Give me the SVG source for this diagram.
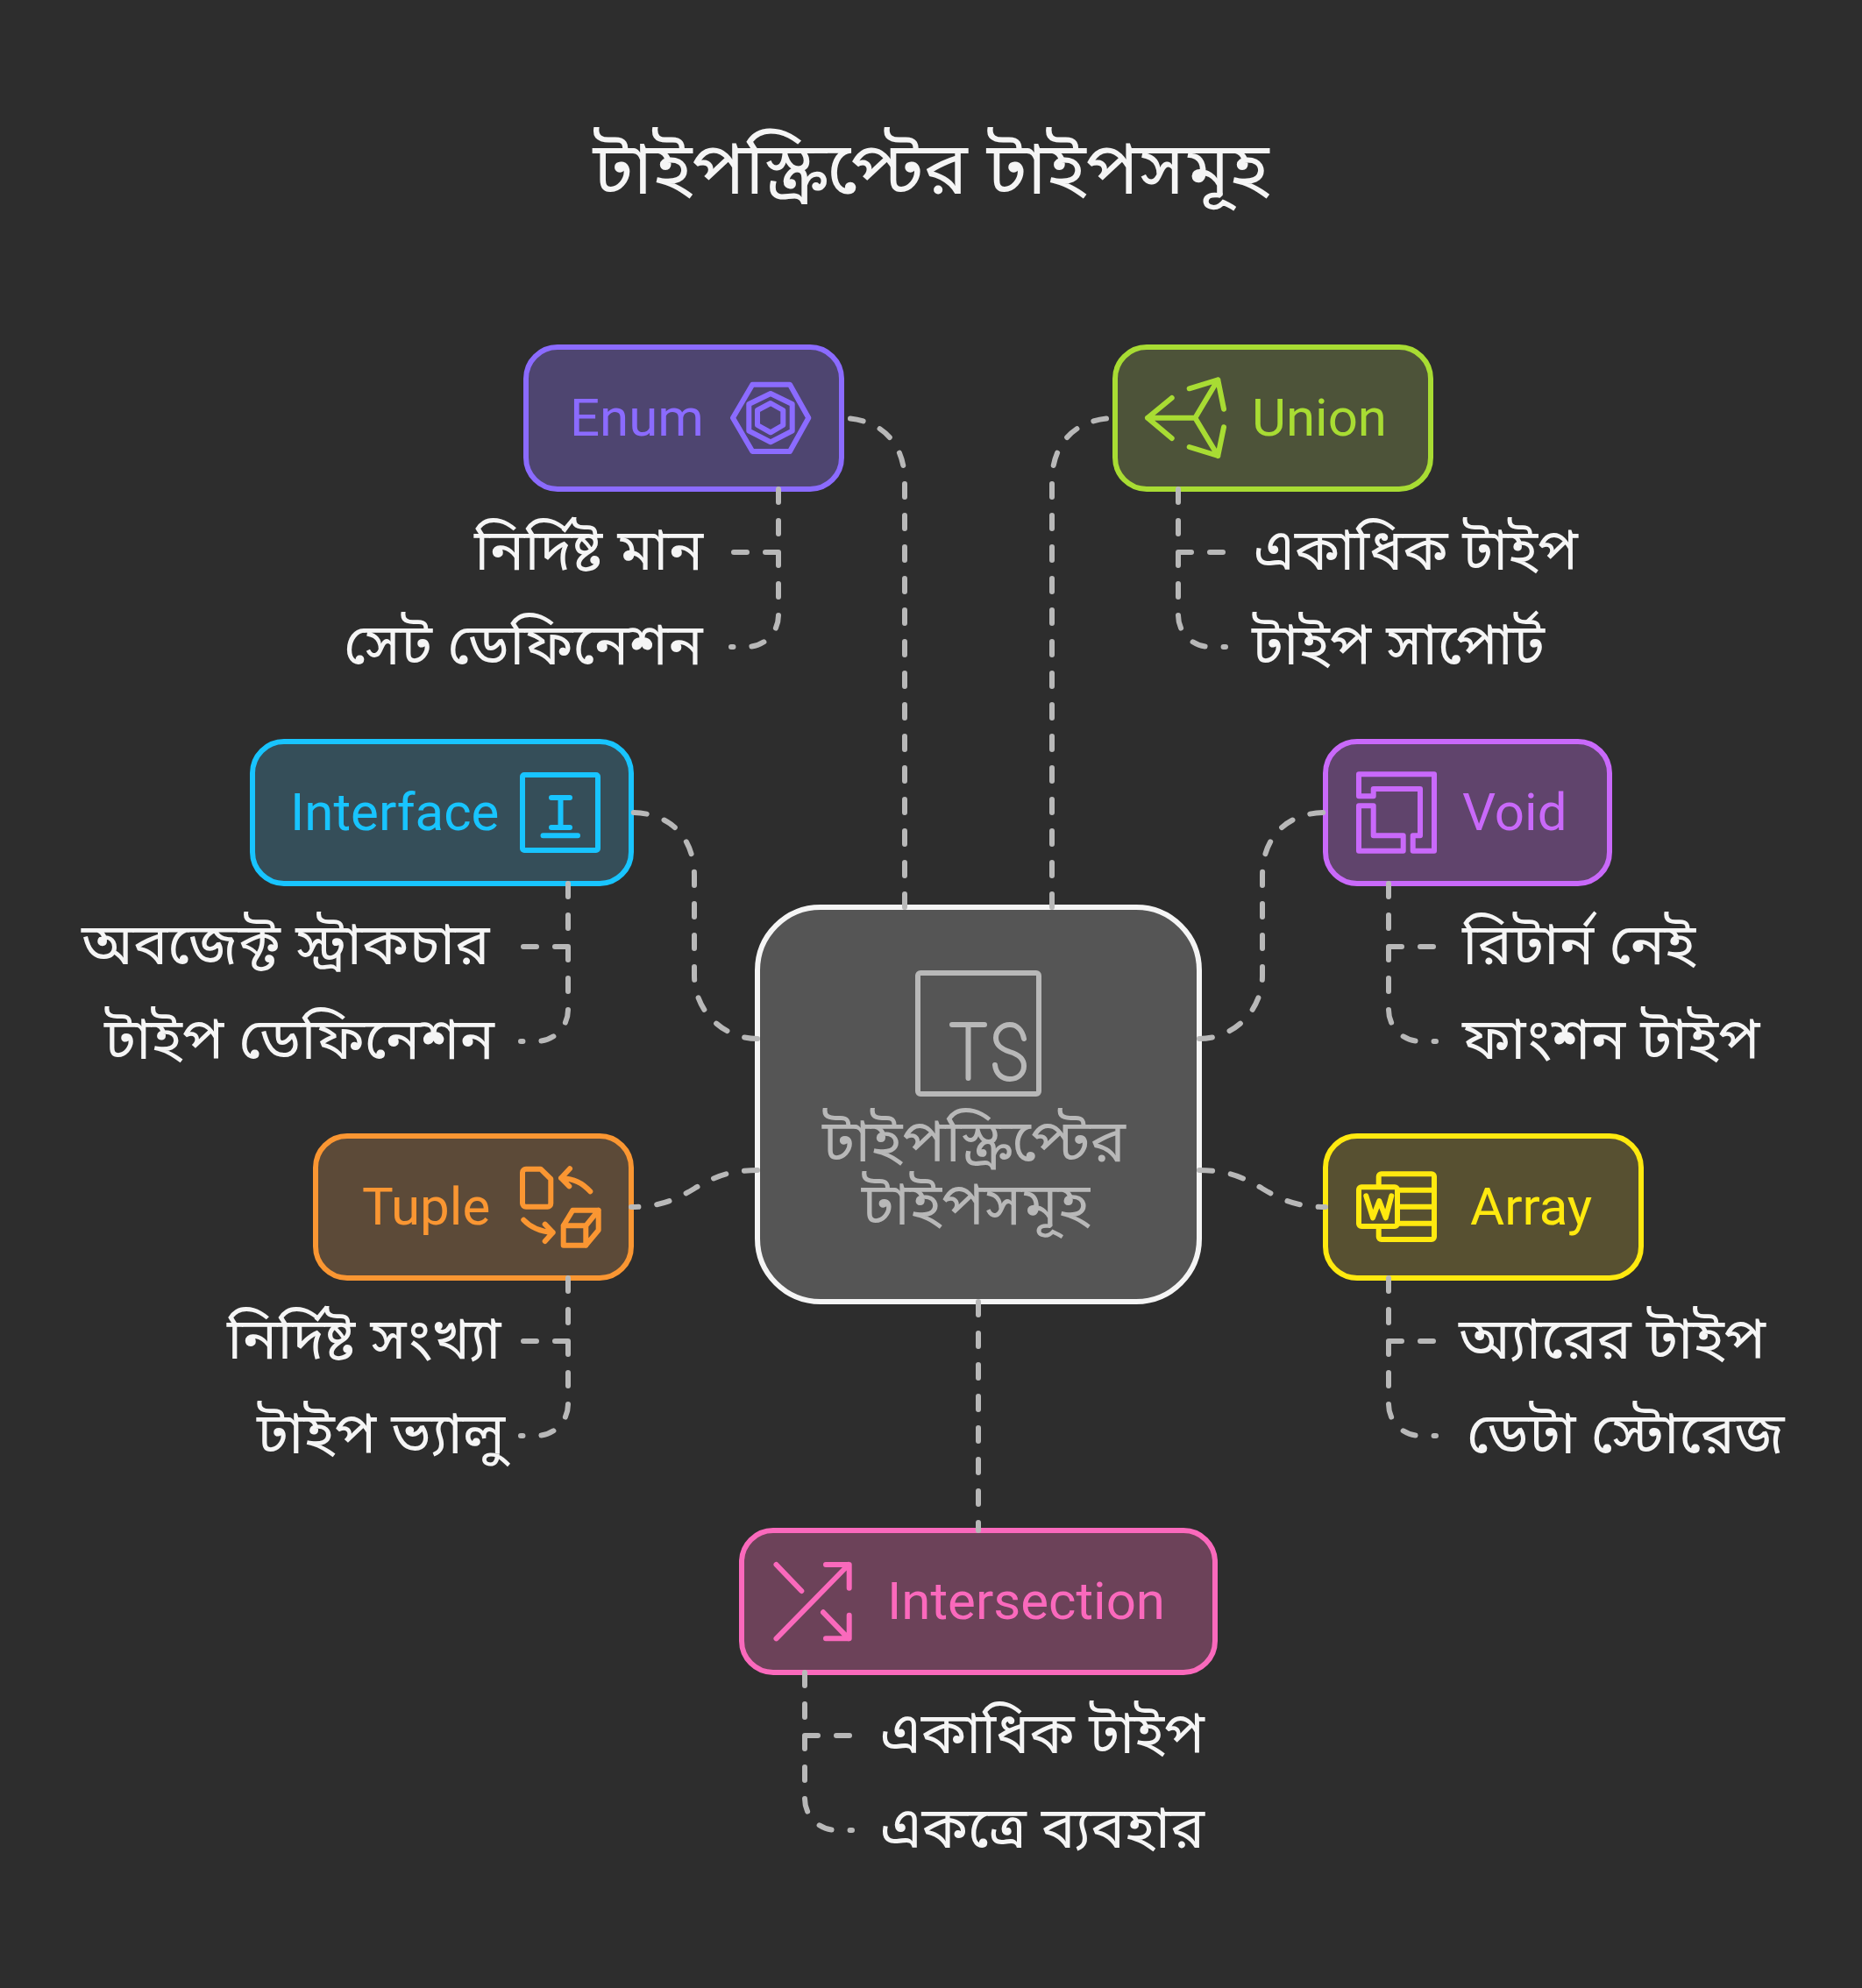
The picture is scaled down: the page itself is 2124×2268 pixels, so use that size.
<svg xmlns="http://www.w3.org/2000/svg" width="2124" height="2268" viewBox="0 0 2124 2268">
<style>
.bg{fill:#2d2d2d}
text{font-family:Roboto,"Noto Sans",sans-serif;font-size:60px}
.bn,.l text{font-family:"Noto Sans Bengali",Roboto,sans-serif}
.l text{font-size:66px}
.l{fill:#f5f5f5}
.c{fill:none;stroke:#b8b8b8;stroke-width:6;stroke-linecap:round;stroke-linejoin:miter;stroke-dasharray:15 21}
.i{fill:none;stroke-width:6;stroke-linecap:round;stroke-linejoin:round}
.b{stroke-width:6}
</style>
<rect class="bg" width="2124" height="2268"/>
<text class="l bn" x="1062" y="221" text-anchor="middle" style="font-size:84px">টাইপস্ক্রিপ্টের টাইপসমূহ</text>
<g id="center"><rect x="864" y="1035" width="504" height="450" rx="72" fill="#555" stroke="#f5f5f5" class="b"/>
<g class="i" stroke="#b8b8b8"><rect x="1047" y="1110" width="138" height="138" rx="3"/><path d="M1086 1169H1123M1104.500 1169V1230M1168 1185C1166 1175 1160 1169 1152 1169C1143 1169 1136 1176 1136 1184C1136 1193 1143 1197 1152 1200C1162 1203 1168 1208 1168 1216C1168 1225 1161 1231 1152 1231C1143 1231 1136 1225 1135 1215"/></g>
<text class="bn" x="1111" y="1325" text-anchor="middle" fill="#b8b8b8" style="font-size:68px">টাইপস্ক্রিপ্টের</text>
<text class="bn" x="1113" y="1397" text-anchor="middle" fill="#b8b8b8" style="font-size:68px">টাইপসমূহ</text></g>
<g id="enum"><rect x="600" y="396" width="360" height="162" rx="36" fill="#4e4570" stroke="#8b6bff" class="b"/><text x="650" y="497" fill="#8b6bff">Enum</text>
<g class="i" stroke="#8b6bff"><path d="M858.300 438.700H901L922.300 476.700L901 515H858.300L836 476.700Z"/><path d="M879 449L903.700 461V491.700L879 504.300L854.300 491.700V461Z"/><path d="M879 460L893.300 468V485L879 493.300L864 485V468Z"/></g></g>
<g id="union"><rect x="1272" y="396" width="360" height="162" rx="36" fill="#4d5339" stroke="#a8dc33" class="b"/><text x="1428" y="497" fill="#a8dc33">Union</text>
<g class="i" stroke="#a8dc33"><path d="M1309 476.700H1363.300L1389.300 433.300M1363.300 476.700L1389.300 520M1336.700 454L1309 476.700L1336.700 500M1356.700 443.300L1389.300 433.300L1396 466.700M1356.700 510L1389.300 520L1396 487.300"/></g></g>
<g id="interface"><rect x="288" y="846" width="432" height="162" rx="36" fill="#354e59" stroke="#18c4ff" class="b"/><text x="331" y="947" fill="#18c4ff">Interface</text>
<g class="i" stroke="#18c4ff"><rect x="596" y="884" width="86" height="86" rx="2"/><path d="M629 910H650M639.500 910V944M629 944H650M619.500 953.300H659"/></g></g>
<g id="void"><rect x="1512" y="846" width="324" height="162" rx="36" fill="#60446c" stroke="#c969fa" class="b"/><text x="1668" y="947" fill="#c969fa">Void</text>
<g class="i" stroke="#c969fa"><path d="M1550 883.300H1636V970.700H1611.700V953.300H1620V900H1566.700V908.300H1550Z"/><path d="M1550 919.300H1566.700V953.300H1600.700V970.700H1550Z"/></g></g>
<g id="tuple"><rect x="360" y="1296" width="360" height="162" rx="36" fill="#5c4a38" stroke="#fa9632" class="b"/><text x="413" y="1397" fill="#fa9632">Tuple</text>
<g class="i" stroke="#fa9632"><path d="M600 1333.700H616.700L628.300 1345V1373A3.700 3.700 0 0 1 624.600 1376.700H600A4 4 0 0 1 596 1372.700V1337.700A4 4 0 0 1 600 1333.700Z"/><path d="M673.300 1359.300C664 1349 655 1345 640 1344M650 1333.300L640 1344L649.300 1353.300M597.300 1391.700C606 1401 616 1405 630.700 1406M621.700 1396.700L630.700 1406L621.700 1416M642.700 1398.300H668.300V1420.700H642.700ZM642.700 1398.300L653.300 1380.700H682.700V1403.300L668.300 1420.700M668.300 1398.300L682.700 1380.700"/></g></g>
<g id="array"><rect x="1512" y="1296" width="360" height="162" rx="36" fill="#575031" stroke="#ffe90f" class="b"/><text x="1677" y="1397" fill="#ffe90f">Array</text>
<g class="i" stroke="#ffe90f"><rect x="1550" y="1354.300" width="44" height="44.700" rx="3"/><path d="M1572.700 1354V1342.300A3 3 0 0 1 1575.700 1339.300H1633A3 3 0 0 1 1636 1342.300V1411A3 3 0 0 1 1633 1414H1575.700A3 3 0 0 1 1572.700 1411V1399M1594 1357.700H1636M1594 1376.700H1636M1594 1395.700H1636M1558.300 1364.300L1566 1389.300L1573.300 1370L1580.700 1389.300L1587.300 1364.300"/></g></g>
<g id="intersection"><rect x="846" y="1746" width="540" height="162" rx="36" fill="#6c4259" stroke="#fa69bc" class="b"/><text x="1012" y="1847" fill="#fa69bc">Intersection</text>
<g class="i" stroke="#fa69bc"><path d="M885.500 1869.300L968 1785M942 1785H968.700V1811.700M885.500 1785L914.300 1815M939 1839.300L968 1869.300M942 1869.300H968.700V1842.700"/></g></g>
<g id="connectors">
<path class="c" d="M1032 1035V549C1032 505 1004 477 960 477"/>
<path class="c" d="M1200 1035V549C1200 505 1228 477 1272 477"/>
<path class="c" d="M864 1185A72 72 0 0 1 792 1113V999C792 955 764 927 720 927"/>
<path class="c" d="M1368 1185A72 72 0 0 0 1440 1113V999C1440 955 1468 927 1512 927"/>
<path class="c" d="M864 1335C792 1335 792 1377 720 1377"/>
<path class="c" d="M1368 1335C1440 1335 1440 1377 1512 1377"/>
<path class="c" d="M1116 1485V1746"/>
<path class="c" d="M888 558V630H834M888 630V702A36 36 0 0 1 852 738H834"/>
<path class="c" d="M1344 558V630H1398M1344 630V702A36 36 0 0 0 1380 738H1398"/>
<path class="c" d="M648 1008V1080H594M648 1080V1152A36 36 0 0 1 612 1188H594"/>
<path class="c" d="M1584 1008V1080H1638M1584 1080V1152A36 36 0 0 0 1620 1188H1638"/>
<path class="c" d="M648 1458V1530H594M648 1530V1602A36 36 0 0 1 612 1638H594"/>
<path class="c" d="M1584 1458V1530H1638M1584 1530V1602A36 36 0 0 0 1620 1638H1638"/>
<path class="c" d="M918 1908V1980H972M918 1980V2052A36 36 0 0 0 954 2088H972"/>
</g>
<g id="labels" class="l">
<text x="541" y="650">নির্দিষ্ট মান</text>
<text x="392" y="758">সেট ডেফিনেশন</text>
<text x="1430" y="650" textLength="370" lengthAdjust="spacingAndGlyphs">একাধিক টাইপ</text>
<text x="1428" y="758">টাইপ সাপোর্ট</text>
<text x="93" y="1100">অবজেক্ট স্ট্রাকচার</text>
<text x="119" y="1208">টাইপ ডেফিনেশন</text>
<text x="1668" y="1100">রিটার্ন নেই</text>
<text x="1668" y="1208">ফাংশন টাইপ</text>
<text x="259" y="1550">নির্দিষ্ট সংখ্যা</text>
<text x="293" y="1658">টাইপ ভ্যালু</text>
<text x="1664" y="1550">অ্যারের টাইপ</text>
<text x="1673" y="1658">ডেটা স্টোরেজ</text>
<text x="1004" y="2000" textLength="370" lengthAdjust="spacingAndGlyphs">একাধিক টাইপ</text>
<text x="1004" y="2108" textLength="370" lengthAdjust="spacingAndGlyphs">একত্রে ব্যবহার</text>
</g>
</svg>
